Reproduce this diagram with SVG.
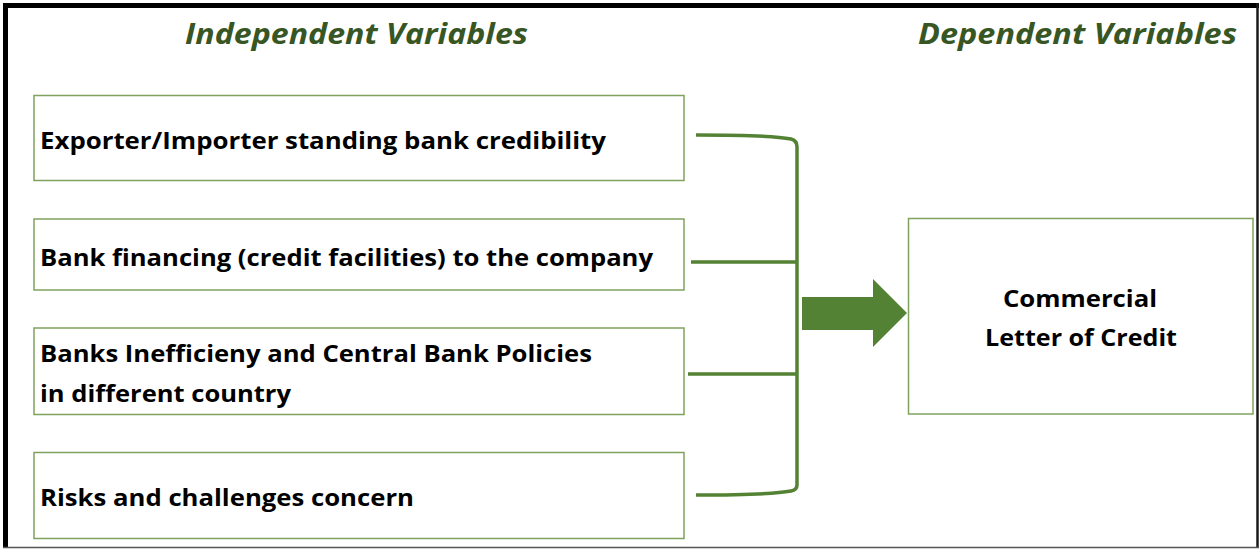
<svg xmlns="http://www.w3.org/2000/svg" width="1260" height="549" viewBox="0 0 1260 549">
  <style>
    .box { fill: #ffffff; stroke: #7fa35f; stroke-width: 1.5; }
    .label { font-family: "Open Sans", "Liberation Sans", sans-serif; font-weight: 700; font-size: 23.5px; fill: #000000; }
    .title { font-family: "Open Sans", "Liberation Sans", sans-serif; font-weight: 700; font-style: italic; font-size: 28.5px; fill: #375623; }
    .link { fill: none; stroke: #548235; stroke-width: 3.5; stroke-linecap: butt; }
  </style>

  <!-- page background and frame -->
  <rect x="0" y="0" width="1260" height="549" fill="#ffffff"/>
  <line x1="5.5" y1="3" x2="5.5" y2="548" stroke="#000000" stroke-width="5"/>
  <line x1="3" y1="5.5" x2="1259" y2="5.5" stroke="#000000" stroke-width="5"/>
  <line x1="1257.5" y1="3" x2="1257.5" y2="548" stroke="#1a1a1a" stroke-width="2.5"/>
  <line x1="3" y1="547.5" x2="1259" y2="547.5" stroke="#555555" stroke-width="1.5"/>

  <!-- column headings -->
  <text class="title" x="185" y="44" textLength="343" lengthAdjust="spacingAndGlyphs">Independent Variables</text>
  <text class="title" x="918" y="44" textLength="319" lengthAdjust="spacingAndGlyphs">Dependent Variables</text>

  <!-- independent variables -->
  <g id="node-standing">
    <rect class="box" x="34" y="95.5" width="650" height="85"/>
    <text class="label" x="40" y="149" textLength="566" lengthAdjust="spacingAndGlyphs">Exporter/Importer standing bank credibility</text>
  </g>
  <g id="node-financing">
    <rect class="box" x="34" y="219" width="650" height="71"/>
    <text class="label" x="40" y="266" textLength="613" lengthAdjust="spacingAndGlyphs">Bank financing (credit facilities) to the company</text>
  </g>
  <g id="node-policies">
    <rect class="box" x="34" y="328" width="650" height="86.5"/>
    <text class="label" x="40" y="362" textLength="552" lengthAdjust="spacingAndGlyphs">Banks Inefficieny and Central Bank Policies</text>
    <text class="label" x="40" y="402" textLength="251" lengthAdjust="spacingAndGlyphs">in different country</text>
  </g>
  <g id="node-risks">
    <rect class="box" x="34" y="452.5" width="650" height="86"/>
    <text class="label" x="40" y="506" textLength="374" lengthAdjust="spacingAndGlyphs">Risks and challenges concern</text>
  </g>

  <!-- dependent variable -->
  <g id="node-letter-of-credit">
    <rect class="box" x="908.5" y="218.5" width="344.5" height="195.5"/>
    <text class="label" x="1080" y="307" text-anchor="middle" textLength="154" lengthAdjust="spacingAndGlyphs">Commercial</text>
    <text class="label" x="1081" y="346" text-anchor="middle" textLength="192" lengthAdjust="spacingAndGlyphs">Letter of Credit</text>
  </g>

  <!-- connectors: bracket joining the four factors, then block arrow -->
  <g id="connectors">
    <path class="link" d="M696,135 Q770,135 791,139 Q797,140.5 797,147 L797,485 Q797,490 791,491 Q770,495 696,495"/>
    <path class="link" d="M691,262 H797"/>
    <path class="link" d="M688,374 H797"/>
    <polygon fill="#548235" points="802,297 873,297 873,279 907,313 873,347 873,330 802,330"/>
  </g>
</svg>
